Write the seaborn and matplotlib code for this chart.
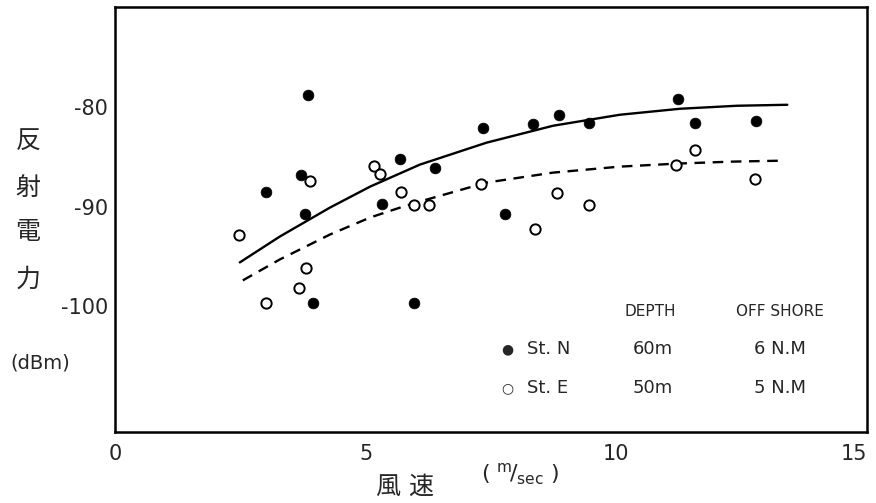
import numpy as np
import pandas as pd
import matplotlib
matplotlib.use("Agg")
import matplotlib.pyplot as plt
import seaborn as sns

# ---- data ----
# St.N (filled circles)
stn_wind = [3.02, 3.72, 3.78, 3.84, 3.94, 5.32, 5.69, 5.97, 6.38, 7.34, 7.77,
            8.34, 8.85, 9.46, 11.24, 11.57, 12.79]
stn_power = [-88.5, -86.8, -90.7, -78.8, -99.7, -89.7, -85.2, -99.7, -86.1, -82.1, -90.7,
             -81.7, -80.8, -81.6, -79.2, -81.6, -81.4]

# St.E (open circles)
ste_wind = [2.48, 3.02, 3.67, 3.80, 3.88, 5.16, 5.29, 5.70, 5.97, 6.27, 7.31,
            8.38, 8.82, 9.45, 11.20, 11.56, 12.77]
ste_power = [-92.9, -99.7, -98.2, -96.2, -87.4, -85.9, -86.7, -88.5, -89.8, -89.8, -87.7,
             -92.3, -88.6, -89.8, -85.8, -84.3, -87.2]

# trend curves
stn_curve_x = [2.49, 3.29, 4.29, 5.09, 6.08, 7.41, 8.74, 10.07, 11.27, 12.4, 13.41]
stn_curve_y = [-95.6, -93.0, -90.1, -88.0, -85.8, -83.6, -81.9, -80.8, -80.2, -79.9, -79.8]
ste_curve_x = [2.55, 3.29, 4.29, 5.09, 5.75, 6.22, 7.41, 8.74, 10.07, 11.2, 12.3, 13.34]
ste_curve_y = [-97.4, -95.3, -92.8, -91.1, -90.0, -89.3, -87.6, -86.6, -86.0, -85.7, -85.5, -85.4]

x_ticks = [0, 5, 10, 15]
y_ticks = [-100, -90, -80]

sns.set_theme(style="white")
plt.rcParams["font.family"] = ["DejaVu Sans", "Noto Sans CJK JP"]
plt.rcParams["axes.unicode_minus"] = False

fig = plt.figure(figsize=(8.76, 5.03), dpi=100)
ax = fig.add_axes([115 / 876, 1 - 432 / 503, 752 / 876, 425 / 503])

df_n = pd.DataFrame({"wind": stn_wind, "power": stn_power})
df_e = pd.DataFrame({"wind": ste_wind, "power": ste_power})
cn = pd.DataFrame({"wind": stn_curve_x, "power": stn_curve_y})
ce = pd.DataFrame({"wind": ste_curve_x, "power": ste_curve_y})

sns.lineplot(data=cn, x="wind", y="power", ax=ax, color="black", lw=1.7, sort=True)
sns.lineplot(data=ce, x="wind", y="power", ax=ax, color="black", lw=1.7,
             linestyle=(0, (4.5, 3.2)), sort=True)
sns.scatterplot(data=df_n, x="wind", y="power", ax=ax, color="black", s=60,
                edgecolor="black", linewidth=0.5, zorder=3)
sns.scatterplot(data=df_e, x="wind", y="power", ax=ax, color="white", s=55,
                edgecolor="black", linewidth=1.4, zorder=3)

ax.set_xlim(0, 15)
ax.set_ylim(-112.6, -70)
ax.set_xticks(x_ticks)
ax.set_yticks(y_ticks)
ax.set_xlabel("")
ax.set_ylabel("")
ax.tick_params(direction="in", length=8, width=1.6, labelsize=15, color="black")
ax.tick_params(axis="x", pad=9)
ax.tick_params(axis="y", pad=5)
# last x label sits inside the figure edge, as in the original
ax.get_xticklabels()[-1].set_horizontalalignment("right")
for s in ax.spines.values():
    s.set_visible(True)
    s.set_color("black")
    s.set_linewidth(1.8)

# y axis label (vertical kanji) and unit
for ch, ypix in zip("反射電力", [142, 188, 232, 280]):
    fig.text(28 / 876, 1 - ypix / 503, ch, fontsize=18, ha="center", va="center")
fig.text(40 / 876, 1 - 363 / 503, "(dBm)", fontsize=14, ha="center", va="center")

# x axis label
fig.text(405 / 876, 1 - 487 / 503, "風 速", fontsize=18, ha="center", va="center")
fig.text(520 / 876, 1 - 474 / 503, r"( $^{\mathrm{m}}\!/_{\mathrm{sec}}$ )",
         fontsize=16, ha="center", va="center")

# legend block
def px(x, y):
    return (x - 115) / 752, (432 - y) / 425

ax.text(*px(650, 311), "DEPTH", transform=ax.transAxes, fontsize=11, ha="center", va="center")
ax.text(*px(780, 311), "OFF SHORE", transform=ax.transAxes, fontsize=11, ha="center", va="center")
ax.text(*px(507, 349), "●", transform=ax.transAxes, fontsize=10, ha="center", va="center")
ax.text(*px(507, 388), "○", transform=ax.transAxes, fontsize=10, ha="center", va="center")
ax.text(*px(527, 349), "St. N", transform=ax.transAxes, fontsize=13, ha="left", va="center")
ax.text(*px(527, 388), "St. E", transform=ax.transAxes, fontsize=13, ha="left", va="center")
ax.text(*px(653, 349), "60m", transform=ax.transAxes, fontsize=13, ha="center", va="center")
ax.text(*px(653, 388), "50m", transform=ax.transAxes, fontsize=13, ha="center", va="center")
ax.text(*px(780, 349), "6 N.M", transform=ax.transAxes, fontsize=13, ha="center", va="center")
ax.text(*px(780, 388), "5 N.M", transform=ax.transAxes, fontsize=13, ha="center", va="center")

fig.savefig("out.png", dpi=100)
